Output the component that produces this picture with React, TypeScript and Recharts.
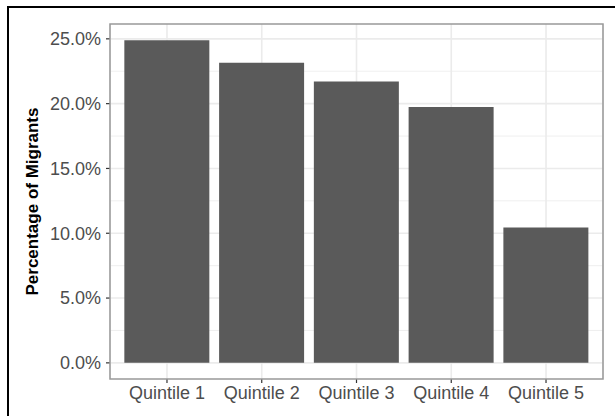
import React from 'react';
import { BarChart, Bar, XAxis, YAxis, CartesianGrid } from 'recharts';

// values
const quintiles = ['Quintile 1', 'Quintile 2', 'Quintile 3', 'Quintile 4', 'Quintile 5'];
const migrantShares = [24.9, 23.15, 21.7, 19.75, 10.45];
const yTicks = [0, 5, 10, 15, 20, 25];
const yMinorTicks = [2.5, 7.5, 12.5, 17.5, 22.5];

const data = quintiles.map((q, i) => ({ name: q, share: migrantShares[i] }));

const FONT = '"Liberation Sans", Arial, Helvetica, sans-serif';
const W = 615;
const H = 416;
// panel box (ggplot theme_bw look)
const PANEL = { left: 110, top: 24, right: 603, bottom: 379 };

// ggplot style 5% expansion around 0..max
const yMax = Math.max(...migrantShares);
const yDomain = [-yMax * 0.05, yMax * 1.05];

const YTitle = () => (
  <text
    x={38}
    y={(PANEL.top + PANEL.bottom) / 2}
    transform={`rotate(-90, 38, ${(PANEL.top + PANEL.bottom) / 2})`}
    textAnchor="middle"
    fontFamily={FONT}
    fontSize={17}
    fontWeight="bold"
    fill="#000"
  >
    Percentage of Migrants
  </text>
);

export default function App() {
  return (
    <div style={{ position: 'absolute', left: 0, top: 0, width: W, height: H, overflow: 'hidden', background: '#fff' }}>
      <div
        style={{
          position: 'absolute',
          left: 7,
          top: 6,
          width: 700,
          height: 500,
          border: '2px solid #000',
          boxSizing: 'border-box',
        }}
      />
      <div style={{ position: 'absolute', left: 0, top: 0 }}>
        <BarChart
          width={W}
          height={H}
          data={data}
          margin={{ top: PANEL.top, right: W - PANEL.right, bottom: 0, left: 0 }}
          barCategoryGap="5%"
        >
          <CartesianGrid
            horizontalValues={yMinorTicks}
            vertical={false}
            stroke="#ebebeb"
            strokeWidth={0.8}
          />
          <CartesianGrid horizontalValues={yTicks} stroke="#ebebeb" strokeWidth={1.6} />
          <XAxis
            dataKey="name"
            height={H - PANEL.bottom}
            padding={{ left: 9.6, right: 9.6 }}
            axisLine={false}
            tickSize={4}
            tickMargin={3}
            tickLine={{ stroke: '#333', strokeWidth: 1.2 }}
            tick={{ fill: '#4d4d4d', fontSize: 18, fontFamily: FONT }}
            interval={0}
          />
          <YAxis
            width={PANEL.left}
            domain={yDomain}
            ticks={yTicks}
            allowDataOverflow
            axisLine={false}
            tickSize={4}
            tickMargin={5}
            tickLine={{ stroke: '#333', strokeWidth: 1.2 }}
            tick={{ fill: '#4d4d4d', fontSize: 18, fontFamily: FONT }}
            tickFormatter={(v: number) => `${v.toFixed(1)}%`}
            label={{ content: () => <YTitle /> }}
          />
          <Bar dataKey="share" fill="#5a5a5a" isAnimationActive={false} />
        </BarChart>
      </div>
      <svg
        width={W}
        height={H}
        style={{ position: 'absolute', left: 0, top: 0, pointerEvents: 'none' }}
      >
        <rect
          x={PANEL.left}
          y={PANEL.top}
          width={PANEL.right - PANEL.left}
          height={PANEL.bottom - PANEL.top}
          fill="none"
          stroke="#999"
          strokeWidth={1.5}
        />
      </svg>
    </div>
  );
}
